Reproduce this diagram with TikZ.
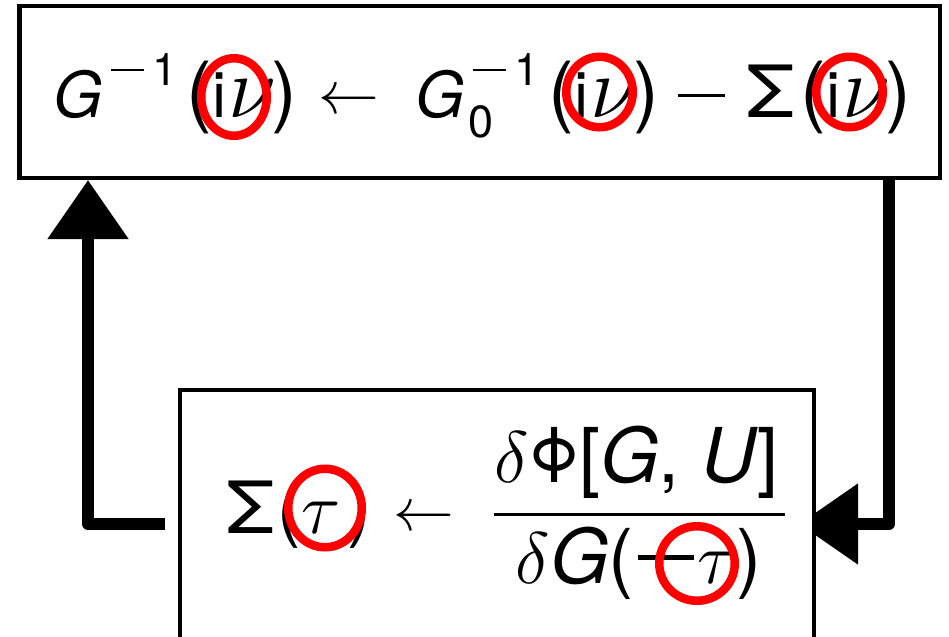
\documentclass[tikz,border=0pt]{standalone}
\usepackage{fontspec}
\setmainfont{TeX Gyre Heros}
\usetikzlibrary{arrows.meta, positioning, fit, backgrounds, calc}
\definecolor{ringRed}{RGB}{255, 0, 0}

\newcommand{\mneg}{\rule[0.31em]{0.74em}{0.06em}}
\newcommand{\gk}[2][24]{{\fontsize{#1}{#1}\selectfont$#2$}}
\newcommand{\lp}[1][22]{{\fontsize{#1}{#1}\selectfont(}}
\newcommand{\rp}[1][22]{{\fontsize{#1}{#1}\selectfont)}}
\newcommand{\supx}[1]{\raisebox{0.5em}{\fontsize{12.8}{14}\selectfont#1}}
\newcommand{\subx}[1]{\raisebox{-0.33em}{\fontsize{12.8}{14}\selectfont#1}}
\newcommand{\bigS}{{\fontsize{20.5}{22}\selectfont\scalebox{1.12}[1]{Σ}}}

\begin{document}
\begin{tikzpicture}[x=0.01cm, y=-0.01cm,
    box/.style={draw, line width=1.15pt, fill=white, inner sep=0},
    txt/.style={inner sep=0, anchor=base west, font=\fontsize{18}{20}\selectfont},
    big/.style={txt, font=\fontsize{21.5}{23}\selectfont},
    flow/.style={line width=3.4pt, line join=round, -{Triangle[length=0.59cm, width=0.78cm]}},
    ring/.style={draw=ringRed, line width=0.085cm}]
\useasboundingbox (0,0) rectangle (949,636);
\clip (0,0) rectangle (949,636);

% boxes
\node[box, fit={(19.5,6) (940,178)}] (topbox) {};
\node[box, fit={(180,390) (814,700)}] (botbox) {};

% upper line
\node[txt] (ginv) at (53,117) {\textit{G}\kern0.12em\supx{\mneg\kern0.2em1}};
\node[txt] (arg1) at (186,117) {\lp i\kern0.03em\gk{\nu}\kern-0.08em\rp};
\node[txt] (to1) at (318,113) {$\leftarrow$};
\node[txt] (g0inv) at (415,117) {\textit{G}\rlap{\kern0.05em\subx{0}}\kern0.12em\supx{\mneg\kern0.2em1}};
\node[txt] (arg2) at (548,117) {\lp i\kern0.03em\gk{\nu}\kern-0.08em\rp};
\node[txt] (neg) at (677,117) {\mneg};
\node[txt] (sig1) at (746,117) {\bigS};
\node[txt] (arg3) at (800,117) {\lp i\kern0.03em\gk{\nu}\kern-0.08em\rp};

% lower line
\node[txt] (sigb) at (226,533) {\bigS};
\node[txt] (argb) at (277,533) {\lp[20]\gk[21]{\tau}\kern0.11em\rp[20]};
\node[txt, font=\fontsize{19}{20}\selectfont] (to2) at (393,530.5) {$\leftarrow$};
\node[big] (num) at (494,482) {\gk[21.5]{\delta}\scalebox{0.87}[1]{Φ}[\textit{G}, \textit{U}]};
\node[big] (den) at (515,583) {\gk[21.5]{\delta}\textit{G}(\kern0.05em\mneg\kern0.05em\gk[21.5]{\tau})};
\draw[line width=0.85pt, shorten >=-1.5pt] (num.west |- 0,514) -- (num.east |- 0,514);

% red rings
\draw[ring] (234,97) ellipse [x radius=32.75, y radius=38.75];
\draw[ring] (599.5,92) ellipse [x radius=33.25, y radius=35.25];
\draw[ring] (849.5,92) ellipse [x radius=33.25, y radius=35.25];
\draw[ring] (325,508) ellipse [x radius=36.75, y radius=39.25];
\draw[ring] (697,563.5) ellipse [x radius=37.75, y radius=37.25];

% feedback arrows
\coordinate (lbend) at (88,524);
\coordinate (lfree) at (165,524);
\coordinate (rbend) at (889,524);
\begin{scope}[on background layer]
\draw[flow] (lfree) -- (lbend) -- (lbend |- topbox.south);
\draw[flow] (rbend |- topbox.south) -- (rbend) -- ($(rbend -| botbox.east)+(-17,0)$);
\end{scope}
\end{tikzpicture}
\end{document}
